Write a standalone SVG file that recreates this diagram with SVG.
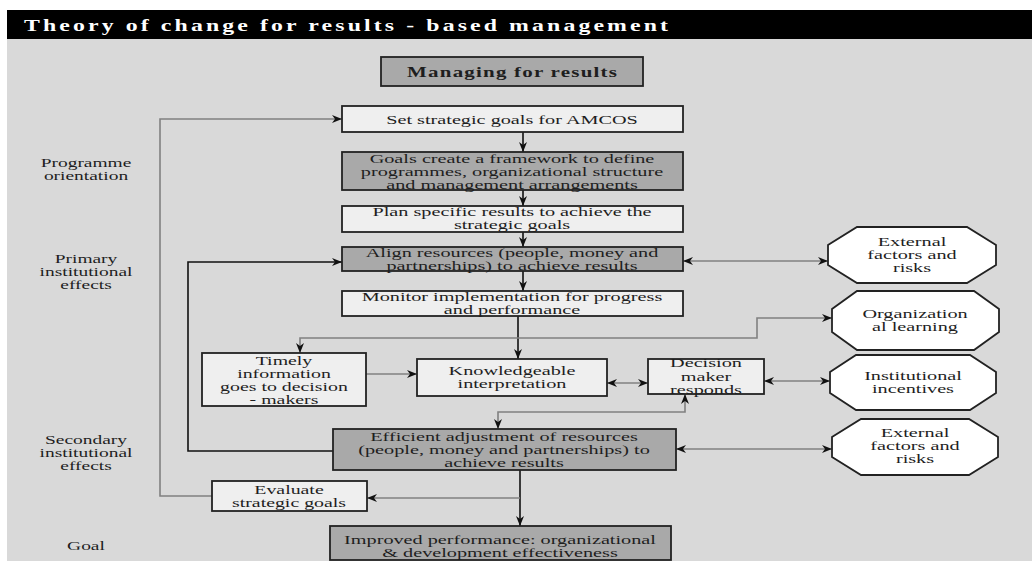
<svg xmlns="http://www.w3.org/2000/svg" width="1032" height="561" viewBox="0 0 1032 561" font-family="'Liberation Serif', 'DejaVu Serif', serif">
<style>
text{font-family:'Liberation Serif','DejaVu Serif',serif;font-size:13.5px;fill:#1e1e1e;text-anchor:middle}
.s{font-size:12.8px}
.t{font-weight:bold;fill:#fff;font-size:17px;text-anchor:start}
.b{font-weight:bold;font-size:15px}
.lt{fill:#efefef;stroke:#222;stroke-width:1.8}
.dk{fill:#a9a9a9;stroke:#222;stroke-width:1.8}
.oc{fill:#fff;stroke:#222;stroke-width:1.8}
.k{fill:none;stroke:#111;stroke-width:1.6}
.g{fill:none;stroke:#808080;stroke-width:1.6}
</style>
<defs>
<marker id="ah" viewBox="0 0 10 8" refX="10" refY="4" markerWidth="10" markerHeight="8" markerUnits="userSpaceOnUse" orient="auto-start-reverse"><path d="M0,0 L10,4 L0,8 L3,4 z" fill="#111"/></marker>
</defs>
<rect x="0" y="0" width="1032" height="561" fill="#fff"/>
<rect x="7" y="39" width="1025" height="522" fill="#d9d9d9"/>
<rect x="7" y="10" width="1025" height="29" fill="#000"/>
<g id="title" transform="translate(24,0) scale(1.4,1)"><text class="t" x="0" y="31" textLength="460" lengthAdjust="spacing">Theory of change for results - based management</text></g>

<g id="labels">
<g transform="translate(86,0) scale(1.52,1)">
<text class="s" x="0" y="167">Programme</text><text class="s" x="0" y="180">orientation</text>
<text class="s" x="0" y="263">Primary</text><text class="s" x="0" y="276">institutional</text><text class="s" x="0" y="289">effects</text>
<text class="s" x="0" y="444">Secondary</text><text class="s" x="0" y="457">institutional</text><text class="s" x="0" y="470">effects</text>
<text class="s" x="0" y="550">Goal</text>
</g>
</g>

<g id="connectors">
<path class="k" d="M523,132 V152" marker-end="url(#ah)"/>
<path class="k" d="M523,190 V206" marker-end="url(#ah)"/>
<path class="k" d="M523,232 V247" marker-end="url(#ah)"/>
<path class="k" d="M523,271 V291" marker-end="url(#ah)"/>
<path class="k" d="M518,316 V359" marker-end="url(#ah)"/>
<path class="k" d="M520,470 V526" marker-end="url(#ah)"/>
<path class="g" d="M212,496 H160 V119 H342" marker-end="url(#ah)"/>
<path class="k" d="M333,451 H188 V262 H342" marker-end="url(#ah)"/>
<path class="g" d="M300,353 V338 H757 V318 H832" marker-start="url(#ah)" marker-end="url(#ah)"/>
<path class="g" d="M366,374 H417" marker-end="url(#ah)"/>
<path class="g" d="M607,383 H648" marker-start="url(#ah)" marker-end="url(#ah)"/>
<path class="g" d="M764,381 H830" marker-start="url(#ah)" marker-end="url(#ah)"/>
<path class="g" d="M683,261 H828" marker-start="url(#ah)" marker-end="url(#ah)"/>
<path class="g" d="M676,449 H832" marker-start="url(#ah)" marker-end="url(#ah)"/>
<path class="g" d="M685,394 V412 H498 V429" marker-start="url(#ah)" marker-end="url(#ah)"/>
<path class="g" d="M520,498 H367" marker-end="url(#ah)"/>
</g>

<g id="managing"><rect class="dk" x="381" y="57" width="262" height="29"/>
<g transform="translate(512,0) scale(1.4,1)"><text class="b" x="0" y="77" textLength="150" lengthAdjust="spacing">Managing for results</text></g></g>

<g id="setgoals"><rect class="lt" x="342" y="106" width="341" height="26"/>
<g transform="translate(512,0) scale(1.5,1)"><text x="0" y="124">Set strategic goals for AMCOS</text></g></g>

<g id="framework"><rect class="dk" x="342" y="152" width="341" height="38"/>
<g transform="translate(512,0) scale(1.5,1)"><text x="0" y="163">Goals create a framework to define</text><text x="0" y="176">programmes, organizational structure</text><text x="0" y="189">and management arrangements</text></g></g>

<g id="plan"><rect class="lt" x="342" y="206" width="341" height="26"/>
<g transform="translate(512,0) scale(1.5,1)"><text x="0" y="216">Plan specific results to achieve the</text><text x="0" y="229">strategic goals</text></g></g>

<g id="align"><rect class="dk" x="342" y="247" width="341" height="24"/>
<g transform="translate(512,0) scale(1.5,1)"><text x="0" y="257">Align resources (people, money and</text><text x="0" y="270">partnerships) to achieve results</text></g></g>

<g id="monitor"><rect class="lt" x="342" y="291" width="341" height="25"/>
<g transform="translate(512,0) scale(1.5,1)"><text x="0" y="301">Monitor implementation for progress</text><text x="0" y="314">and performance</text></g></g>

<g id="timely"><rect class="lt" x="202" y="353" width="164" height="53"/>
<g transform="translate(284,0) scale(1.55,1)"><text class="s" x="0" y="365">Timely</text><text class="s" x="0" y="378">information</text><text class="s" x="0" y="391">goes to decision</text><text class="s" x="0" y="404">- makers</text></g></g>

<g id="knowledge"><rect class="lt" x="417" y="359" width="190" height="37"/>
<g transform="translate(512,0) scale(1.5,1)"><text x="0" y="375">Knowledgeable</text><text x="0" y="388">interpretation</text></g></g>

<g id="decision"><rect class="lt" x="648" y="359" width="116" height="35"/>
<g transform="translate(706,0) scale(1.5,1)"><text x="0" y="367">Decision</text><text x="0" y="381">maker</text><text x="0" y="394">responds</text></g></g>

<g id="efficient"><rect class="dk" x="333" y="429" width="343" height="41"/>
<g transform="translate(504,0) scale(1.5,1)"><text x="0" y="441">Efficient adjustment of resources</text><text x="0" y="454">(people, money and partnerships) to</text><text x="0" y="467">achieve results</text></g></g>

<g id="evaluate"><rect class="lt" x="212" y="481" width="155" height="30"/>
<g transform="translate(289,0) scale(1.55,1)"><text class="s" x="0" y="494">Evaluate</text><text class="s" x="0" y="507">strategic goals</text></g></g>

<g id="improved"><rect class="dk" x="330" y="526" width="341" height="34"/>
<g transform="translate(500,0) scale(1.5,1)"><text x="0" y="544">Improved performance: organizational</text><text x="0" y="557">&amp; development effectiveness</text></g></g>

<g id="external1"><polygon class="oc" points="857,227 967,227 996,245 996,265 967,283 857,283 828,265 828,245"/>
<g transform="translate(912,0) scale(1.5,1)"><text x="0" y="246">External</text><text x="0" y="259">factors and</text><text x="0" y="272">risks</text></g></g>

<g id="orglearning"><polygon class="oc" points="857,291 974,291 999,309 999,332 974,350 857,350 832,332 832,309"/>
<g transform="translate(915,0) scale(1.5,1)"><text x="0" y="318">Organization</text><text x="0" y="331">al learning</text></g></g>

<g id="incentives"><polygon class="oc" points="856,355 970,355 996,372 996,393 970,410 856,410 830,393 830,372"/>
<g transform="translate(913,0) scale(1.5,1)"><text x="0" y="380">Institutional</text><text x="0" y="393">incentives</text></g></g>

<g id="external2"><polygon class="oc" points="861,419 969,419 998,437 998,457 969,475 861,475 832,457 832,437"/>
<g transform="translate(915,0) scale(1.5,1)"><text x="0" y="437">External</text><text x="0" y="450">factors and</text><text x="0" y="463">risks</text></g></g>
</svg>
